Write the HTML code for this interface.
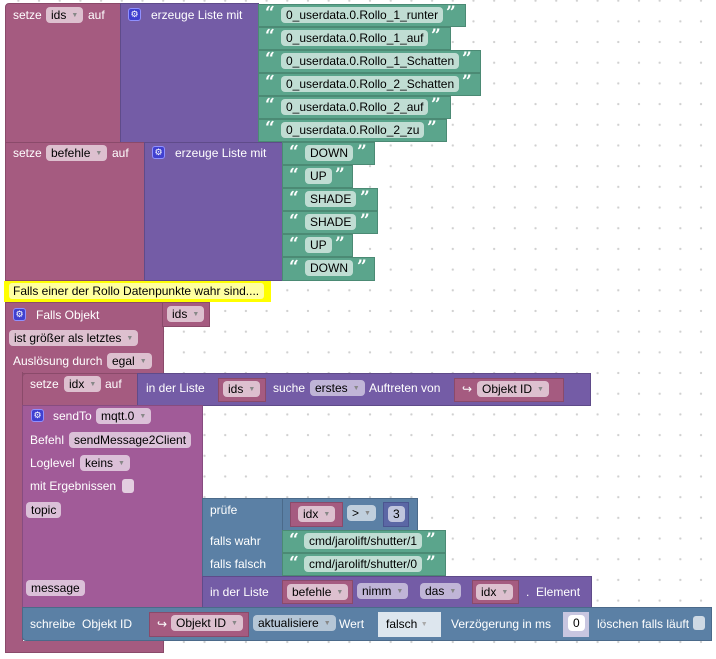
<!DOCTYPE html>
<html><head><meta charset="utf-8"><style>
html,body{margin:0;padding:0}
body{width:716px;height:659px;position:relative;overflow:hidden;background:#fff;
background-image:radial-gradient(circle,#d0d0d0 1px,transparent 1.3px);background-size:20.7px 20.7px;background-position:8px 11px;
font-family:"Liberation Sans",Arial,sans-serif;font-size:12px}
.b{position:absolute;box-sizing:border-box}
.m{background:#a55b80;border:1px solid #8a4a6a}
.p{background:#745ca6;border:1px solid #5f4b8a}
.g{background:#5ba58c;border:1px solid #4b8a74}
.l{background:#5b80a5;border:1px solid #4b6a8a}
.s{background:#a15b98;border:1px solid #874c80}
.n{background:#5b67a5;border:1px solid #4b5590}
.t{position:absolute;color:#fff;white-space:nowrap;line-height:14px}
.f{position:absolute;white-space:nowrap;line-height:16px;height:16px;padding:0 5px;border-radius:4px;color:#000;background:rgba(255,255,255,.62);box-sizing:border-box}
.f i{font-style:normal;font-size:7px;color:#888;margin-left:5px;vertical-align:2px}
.q{position:absolute;color:#fff;font-weight:bold;font-size:17px;line-height:14px;font-family:"DejaVu Serif",serif;margin-top:-1px}
.gear{position:absolute;width:13px;height:13px;background:#4040d0;border:1px solid #9090ff;border-radius:3px;box-sizing:border-box;color:#fff;font-size:9px;line-height:11px;text-align:center}
.chk{position:absolute;width:12px;height:14px;background:rgba(255,255,255,.7);border-radius:3px}
</style></head><body>

<!-- block 1 -->
<div class="b m" style="left:5px;top:3px;width:116px;height:140px;border-radius:4px 0 0 0"></div>
<div class="b p" style="left:120px;top:3px;width:139px;height:140px"></div>
<div class="t" style="left:13px;top:8px">setze</div>
<div class="f" style="left:46px;top:7px">ids<i>▼</i></div>
<div class="t" style="left:88px;top:8px">auf</div>
<div class="gear" style="left:128px;top:8px">⚙</div>
<div class="t" style="left:151px;top:8px">erzeuge Liste mit</div>

<div class="b g" style="left:258px;top:4px;width:208px;height:23px"></div>
<div class="b g" style="left:258px;top:27px;width:193px;height:23px"></div>
<div class="b g" style="left:258px;top:50px;width:223px;height:23px"></div>
<div class="b g" style="left:258px;top:73px;width:223px;height:23px"></div>
<div class="b g" style="left:258px;top:96px;width:193px;height:23px"></div>
<div class="b g" style="left:258px;top:119px;width:189px;height:23px"></div>
<div class="q" style="left:265px;top:7px">“</div><div class="f" style="left:281px;top:7px">0_userdata.0.Rollo_1_runter</div><div class="q" style="left:446px;top:7px">”</div>
<div class="q" style="left:265px;top:30px">“</div><div class="f" style="left:281px;top:30px">0_userdata.0.Rollo_1_auf</div><div class="q" style="left:431px;top:30px">”</div>
<div class="q" style="left:265px;top:53px">“</div><div class="f" style="left:281px;top:53px">0_userdata.0.Rollo_1_Schatten</div><div class="q" style="left:462px;top:53px">”</div>
<div class="q" style="left:265px;top:76px">“</div><div class="f" style="left:281px;top:76px">0_userdata.0.Rollo_2_Schatten</div><div class="q" style="left:462px;top:76px">”</div>
<div class="q" style="left:265px;top:99px">“</div><div class="f" style="left:281px;top:99px">0_userdata.0.Rollo_2_auf</div><div class="q" style="left:431px;top:99px">”</div>
<div class="q" style="left:265px;top:122px">“</div><div class="f" style="left:281px;top:122px">0_userdata.0.Rollo_2_zu</div><div class="q" style="left:427px;top:122px">”</div>

<!-- block 2 -->
<div class="b m" style="left:5px;top:142px;width:141px;height:139px"></div>
<div class="b p" style="left:144px;top:142px;width:139px;height:139px"></div>
<div class="t" style="left:13px;top:146px">setze</div>
<div class="f" style="left:46px;top:145px">befehle<i>▼</i></div>
<div class="t" style="left:112px;top:146px">auf</div>
<div class="gear" style="left:152px;top:146px">⚙</div>
<div class="t" style="left:175px;top:146px">erzeuge Liste mit</div>
<div class="b g" style="left:282px;top:142px;width:93px;height:23px"></div>
<div class="b g" style="left:282px;top:165px;width:71px;height:23px"></div>
<div class="b g" style="left:282px;top:188px;width:96px;height:23px"></div>
<div class="b g" style="left:282px;top:211px;width:96px;height:23px"></div>
<div class="b g" style="left:282px;top:234px;width:71px;height:23px"></div>
<div class="b g" style="left:282px;top:257px;width:93px;height:24px"></div>
<div class="q" style="left:289px;top:146px">“</div><div class="f" style="left:305px;top:145px">DOWN</div><div class="q" style="left:357px;top:146px">”</div>
<div class="q" style="left:289px;top:169px">“</div><div class="f" style="left:305px;top:168px">UP</div><div class="q" style="left:335px;top:169px">”</div>
<div class="q" style="left:289px;top:192px">“</div><div class="f" style="left:305px;top:191px">SHADE</div><div class="q" style="left:360px;top:192px">”</div>
<div class="q" style="left:289px;top:215px">“</div><div class="f" style="left:305px;top:214px">SHADE</div><div class="q" style="left:360px;top:215px">”</div>
<div class="q" style="left:289px;top:238px">“</div><div class="f" style="left:305px;top:237px">UP</div><div class="q" style="left:335px;top:238px">”</div>
<div class="q" style="left:289px;top:261px">“</div><div class="f" style="left:305px;top:260px">DOWN</div><div class="q" style="left:357px;top:261px">”</div>

<!-- comment -->
<div class="b" style="left:4px;top:281px;width:267px;height:21px;background:#ffff00"></div>
<div class="b" style="left:9px;top:283px;width:255px;height:16px;background:#ffffa0;border-radius:3px"></div>
<div class="t" style="left:13px;top:284px;color:#000">Falls einer der Rollo Datenpunkte wahr sind....</div>

<!-- Falls Objekt -->
<div class="b m" style="left:5px;top:302px;width:159px;height:72px"></div>
<div class="b m" style="left:162px;top:302px;width:48px;height:25px"></div>
<div class="b m" style="left:5px;top:372px;width:18px;height:280px;border-top:none;border-radius:0 0 0 4px"></div>
<div class="b m" style="left:5px;top:641px;width:159px;height:12px;border-top:none"></div>
<div class="gear" style="left:13px;top:308px">⚙</div>
<div class="t" style="left:36px;top:308px">Falls Objekt</div>
<div class="f" style="left:167px;top:306px">ids<i>▼</i></div>
<div class="f" style="left:9px;top:330px">ist größer als letztes<i>▼</i></div>
<div class="t" style="left:13px;top:354px">Auslösung durch</div>
<div class="f" style="left:107px;top:353px">egal<i>▼</i></div>

<!-- setze idx -->
<div class="b m" style="left:22px;top:373px;width:116px;height:33px;border-radius:4px 0 0 0"></div>
<div class="b p" style="left:137px;top:373px;width:454px;height:33px"></div>
<div class="t" style="left:30px;top:377px">setze</div>
<div class="f" style="left:64px;top:376px">idx<i>▼</i></div>
<div class="t" style="left:105px;top:377px">auf</div>
<div class="t" style="left:146px;top:381px">in der Liste</div>
<div class="b m" style="left:218px;top:378px;width:48px;height:24px"></div>
<div class="f" style="left:223px;top:381px">ids<i>▼</i></div>
<div class="t" style="left:273px;top:381px">suche</div>
<div class="f" style="left:310px;top:380px;background:rgba(255,255,255,.55)">erstes<i>▼</i></div>
<div class="t" style="left:369px;top:381px">Auftreten von</div>
<div class="b m" style="left:454px;top:378px;width:110px;height:24px"></div>
<div class="t" style="left:462px;top:382px">↪</div>
<div class="f" style="left:477px;top:381px">Objekt ID<i>▼</i></div>

<!-- sendTo -->
<div class="b s" style="left:22px;top:405px;width:181px;height:203px"></div>
<div class="gear" style="left:31px;top:409px">⚙</div>
<div class="t" style="left:53px;top:409px">sendTo</div>
<div class="f" style="left:96px;top:408px">mqtt.0<i>▼</i></div>
<div class="t" style="left:30px;top:433px">Befehl</div>
<div class="f" style="left:69px;top:432px">sendMessage2Client</div>
<div class="t" style="left:30px;top:456px">Loglevel</div>
<div class="f" style="left:80px;top:455px">keins<i>▼</i></div>
<div class="t" style="left:30px;top:479px">mit Ergebnissen</div>
<div class="chk" style="left:122px;top:479px"></div>
<div class="f" style="left:26px;top:502px">topic</div>
<div class="f" style="left:26px;top:580px">message</div>

<!-- prüfe -->
<div class="b l" style="left:202px;top:498px;width:81px;height:79px"></div>
<div class="b l" style="left:282px;top:498px;width:136px;height:33px"></div>
<div class="t" style="left:210px;top:503px">prüfe</div>
<div class="t" style="left:210px;top:534px">falls wahr</div>
<div class="t" style="left:210px;top:557px">falls falsch</div>
<div class="b m" style="left:290px;top:502px;width:53px;height:25px"></div>
<div class="f" style="left:298px;top:506px">idx<i>▼</i></div>
<div class="f" style="left:347px;top:505px">&gt;<i>▼</i></div>
<div class="b n" style="left:383px;top:502px;width:26px;height:25px"></div>
<div class="f" style="left:388px;top:506px">3</div>
<div class="b g" style="left:282px;top:530px;width:164px;height:23px"></div>
<div class="b g" style="left:282px;top:553px;width:164px;height:23px"></div>
<div class="q" style="left:289px;top:534px">“</div><div class="f" style="left:304px;top:533px">cmd/jarolift/shutter/1</div><div class="q" style="left:426px;top:534px">”</div>
<div class="q" style="left:289px;top:557px">“</div><div class="f" style="left:304px;top:556px">cmd/jarolift/shutter/0</div><div class="q" style="left:426px;top:557px">”</div>

<!-- in der Liste befehle -->
<div class="b p" style="left:202px;top:576px;width:390px;height:32px"></div>
<div class="t" style="left:210px;top:585px">in der Liste</div>
<div class="b m" style="left:282px;top:580px;width:71px;height:24px"></div>
<div class="f" style="left:287px;top:584px">befehle<i>▼</i></div>
<div class="f" style="left:357px;top:583px;background:rgba(255,255,255,.55)">nimm<i>▼</i></div>
<div class="f" style="left:420px;top:583px;background:rgba(255,255,255,.55)">das<i>▼</i></div>
<div class="b m" style="left:472px;top:580px;width:47px;height:24px"></div>
<div class="f" style="left:476px;top:584px">idx<i>▼</i></div>
<div class="t" style="left:526px;top:585px">.&nbsp;&nbsp;Element</div>

<!-- schreibe -->
<div class="b l" style="left:22px;top:607px;width:690px;height:34px;border-radius:0 0 0 4px"></div>
<div class="t" style="left:30px;top:617px">schreibe&nbsp;&nbsp;Objekt ID</div>
<div class="b m" style="left:149px;top:612px;width:100px;height:25px"></div>
<div class="t" style="left:157px;top:617px">↪</div>
<div class="f" style="left:171px;top:615px">Objekt ID<i>▼</i></div>
<div class="f" style="left:253px;top:615px;background:rgba(255,255,255,.55)">aktualisiere<i>▼</i></div>
<div class="t" style="left:339px;top:617px">Wert</div>
<div class="b" style="left:378px;top:612px;width:63px;height:25px;background:#dde6ee"></div>
<div class="t" style="left:386px;top:617px;color:#000">falsch <span style="font-size:7px;color:#aaa;vertical-align:2px">▼</span></div>
<div class="t" style="left:451px;top:617px">Verzögerung in ms</div>
<div class="b" style="left:563px;top:612px;width:26px;height:25px;background:#c8c6e0"></div>
<div class="f" style="left:568px;top:615px;background:#fff">0</div>
<div class="t" style="left:597px;top:617px">löschen falls läuft</div>
<div class="chk" style="left:693px;top:616px"></div>

</body></html>
